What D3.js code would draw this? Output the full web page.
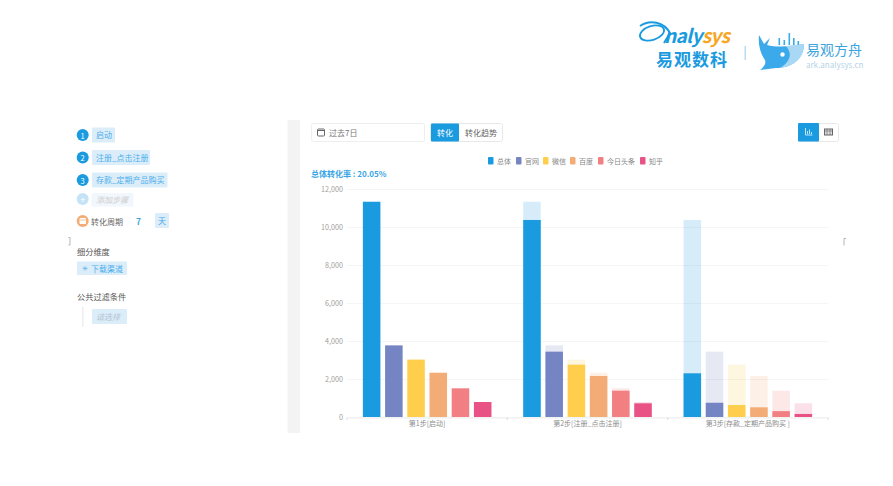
<!DOCTYPE html>
<html>
<head>
<meta charset="utf-8">
<script src="https://cdn.jsdelivr.net/npm/d3@7"></script>
<style>
  html, body { margin: 0; padding: 0; background: #fff; }
  text { font-family: "Noto Sans CJK SC", "Noto Sans", sans-serif; }
</style>
</head>
<body>
<div class="chart"></div>
<script>
// values
const steps = ["第1步[启动]", "第2步[注册_点击注册]", "第3步[存款_定期产品购买 ]"];
const seriesNames = ["总体", "官网", "微信", "百度", "今日头条", "知乎"];
const colors = ["#1a9be0", "#7585c3", "#ffce4d", "#f3ac76", "#f27f82", "#e85285"];
const total = [11330, 10370, 2300];
const guanwang = [3770, 3440, 750];
const weixin = [3020, 2755, 630];
const baidu = [2330, 2160, 510];
const toutiao = [1510, 1385, 310];
const zhihu = [790, 720, 160];
const yTicks = [0, 2000, 4000, 6000, 8000, 10000, 12000];
const stepLabels = ["启动", "注册_点击注册", "存款_定期产品购买"];

const allSeries = [total, guanwang, weixin, baidu, toutiao, zhihu];
const blue = "#1a9be0", chip = "#dcedfa";

const svg = d3.select(".chart").append("svg")
  .attr("width", 893).attr("height", 486)
  .style("display", "block");

function label(x, y, str, size, fill, extra) {
  const t = svg.append("text").attr("x", x).attr("y", y)
    .attr("dominant-baseline", "central")
    .attr("font-size", size).attr("fill", fill).text(str);
  if (extra) extra(t);
  return t;
}
function box(x, y, w, h, fill, r) {
  return svg.append("rect").attr("x", x).attr("y", y).attr("width", w).attr("height", h)
    .attr("fill", fill).attr("rx", r || 0);
}

// ---------- chart ----------
const x0 = d3.scaleBand().domain(steps).range([347, 828]);
const x1 = d3.scaleBand().domain(seriesNames).range([0, x0.bandwidth()])
  .paddingInner(0.21).paddingOuter(0.715);
const y = d3.scaleLinear().domain([0, 12000]).range([417, 189]);

const yAxis = d3.axisLeft(y).tickValues(yTicks).tickFormat(d3.format(","))
  .tickSize(-481).tickPadding(4);
const gy = svg.append("g").attr("transform", "translate(347,0)").call(yAxis);
gy.select(".domain").remove();
gy.selectAll("line").attr("stroke", "#f4f5f6");
gy.selectAll("text").attr("fill", "#a0a0a0").attr("font-size", 7.2);

const xAxis = d3.axisBottom(x0).tickSize(0).tickPadding(3.5);
const gx = svg.append("g").attr("transform", "translate(0,417.5)").call(xAxis);
gx.select(".domain").attr("stroke", "#eeeeee");
gx.selectAll("text").attr("fill", "#8c8c8c").attr("font-size", 7);
svg.append("g").selectAll("line")
  .data(d3.range(steps.length + 1))
  .join("line")
  .attr("x1", i => 347 + i * x0.step()).attr("x2", i => 347 + i * x0.step())
  .attr("y1", 417.5).attr("y2", 420)
  .attr("stroke", "#ddd");

seriesNames.forEach((name, s) => {
  const vals = allSeries[s];
  const g = svg.append("g");
  // faded bar = the value of the previous step
  g.selectAll(".ghost")
    .data(steps.slice(1))
    .join("rect")
    .attr("class", "ghost")
    .attr("x", d => x0(d) + x1(name))
    .attr("width", x1.bandwidth())
    .attr("y", (d, i) => y(vals[i]))
    .attr("height", (d, i) => y(0) - y(vals[i]))
    .attr("fill", colors[s]).attr("opacity", 0.18);
  g.selectAll(".bar")
    .data(steps)
    .join("rect")
    .attr("class", "bar")
    .attr("x", d => x0(d) + x1(name))
    .attr("width", x1.bandwidth())
    .attr("y", (d, i) => y(vals[i]))
    .attr("height", (d, i) => y(0) - y(vals[i]))
    .attr("fill", colors[s]);
});

// legend
const legendX = [488, 516, 543, 570, 598, 640];
seriesNames.forEach((name, i) => {
  box(legendX[i], 157, 5.5, 7.5, colors[i], 1);
  label(legendX[i] + 9, 160.5, name, 7, "#888");
});
label(311, 173.5, "总体转化率 : 20.05%", 8, "#3ba6e6", t => t.attr("font-weight", 700));

// ---------- toolbar ----------
box(311.5, 123.5, 113, 18, "#fff", 2).attr("stroke", "#eeeeee");
svg.append("rect").attr("x", 317.5).attr("y", 129).attr("width", 7).attr("height", 7)
  .attr("fill", "none").attr("stroke", "#666").attr("rx", 1);
svg.append("line").attr("x1", 317.5).attr("x2", 324.5).attr("y1", 130.5).attr("y2", 130.5).attr("stroke", "#666");
label(329, 132.5, "过去7日", 8, "#777");
box(430.5, 123.5, 72, 18, "#fff", 2).attr("stroke", "#e8e8e8");
box(431, 123.5, 28, 18, blue, 1);
label(437, 132.5, "转化", 8, "#fff");
label(465, 132.5, "转化趋势", 8, "#666");

box(798.5, 123.5, 40, 18, "#fff", 2).attr("stroke", "#e8e8e8");
box(798, 123, 21, 18.5, blue, 1);
svg.append("path").attr("d", "M805.5 128v7h7M807.5 134v-3M809.5 134v-4.5M811.5 134v-2")
  .attr("fill", "none").attr("stroke", "#bfe3f8");
svg.append("rect").attr("x", 824.5).attr("y", 129).attr("width", 8).attr("height", 6)
  .attr("fill", "#ddd").attr("stroke", "#666");
svg.append("path").attr("d", "M824.5 131h8M827 129v6M830 129v6").attr("stroke", "#666").attr("stroke-width", 0.6);

// ---------- left panel ----------
box(287.5, 120, 12.5, 313, "#f3f3f4");
const stepY = [135, 157.5, 180];
const stepW = [23, 58, 75.5];
stepLabels.forEach((s, i) => {
  svg.append("circle").attr("cx", 82.7).attr("cy", stepY[i]).attr("r", 6).attr("fill", blue);
  label(82.7, stepY[i], i + 1, 7.5, "#fff", t => t.attr("text-anchor", "middle"));
  box(92, stepY[i] - 7.5, stepW[i], 15, chip, 1);
  label(96, stepY[i] - 0.5, s, 8, "#4aaeea");
});
svg.append("circle").attr("cx", 82.7).attr("cy", 199).attr("r", 6).attr("fill", "#c5e3f7");
label(82.7, 199, "+", 9, "#fff", t => t.attr("text-anchor", "middle"));
box(91.5, 193, 42, 13.5, "#f1f7fc", 1);
label(96, 199.5, "添加步骤", 8, "#ccc", t => t.attr("font-style", "italic"));

svg.append("circle").attr("cx", 82.7).attr("cy", 221).attr("r", 6).attr("fill", "#f3ac76");
box(79.5, 218, 6.5, 6, "#fff", 1);
svg.append("line").attr("x1", 79.5).attr("x2", 86).attr("y1", 220).attr("y2", 220).attr("stroke", "#f3ac76").attr("stroke-width", 0.7);
label(91, 221.5, "转化周期", 8, "#666");
label(136, 220.5, "7", 8.5, "#3ba6e6", t => t.attr("font-weight", 700));
box(155, 213, 14, 15, chip, 1);
label(158, 220.5, "天", 8, "#3ba6e6");

svg.append("path").attr("d", "M68.5 237.5h1.5v7.5h-1.5").attr("fill", "none").attr("stroke", "#999").attr("stroke-width", 0.7);
svg.append("path").attr("d", "M846 238.5h-2v7").attr("fill", "none").attr("stroke", "#999").attr("stroke-width", 0.7);

label(77, 250.5, "细分维度", 8.2, "#555");
box(77, 261.5, 50, 13.5, chip, 1);
label(85, 268, "✳", 7, "#4aaeea", t => t.attr("text-anchor", "middle"));
label(91, 268, "下载渠道", 8, "#4aaeea");

label(77, 295.5, "公共过滤条件", 8.2, "#555");
box(82, 307, 1.5, 20, "#eeeeee");
box(92, 309, 35, 15, chip, 1);
label(96, 316.5, "请选择", 8, "#b5c4d0", t => t.attr("font-style", "italic"));

// ---------- logos ----------
svg.append("ellipse").attr("cx", 652).attr("cy", 33).attr("rx", 12.5).attr("ry", 7)
  .attr("transform", "rotate(-18 652 33)")
  .attr("fill", "none").attr("stroke", blue).attr("stroke-width", 1.8);
svg.append("path").attr("d", "M640 26C650 19 664 22 670 33L664 43")
  .attr("fill", "none").attr("stroke", blue).attr("stroke-width", 2);
svg.append("text").attr("x", 664).attr("y", 43)
  .attr("font-size", 19).attr("font-weight", 700).attr("font-style", "italic")
  .attr("font-family", "Liberation Sans").attr("textLength", 66)
  .attr("fill", blue)
  .call(t => t.append("tspan").text("naly"))
  .call(t => t.append("tspan").attr("fill", "#f6a623").text("sys"));
label(656, 58.5, "易观数科", 17, blue, t => t.attr("font-weight", 700).attr("textLength", 71));
box(744.5, 46, 1.5, 14, "#b9dcf2");

// whale
svg.append("path")
  .attr("d", "M759 35L764 44L770 38L767 45C778 48 794 46 804 44C804 58 793 68 776 68L760 70C765 66 766 63 765 60C760 53 758 44 759 35Z")
  .attr("fill", "#3ba9ea");
svg.append("path").attr("d", "M786 46L804 44C804 57 795 66 780 68C790 62 793 54 786 46Z").attr("fill", "#a9d8f5");
svg.append("circle").attr("cx", 782.5).attr("cy", 54.5).attr("r", 2.2).attr("fill", "#fff");
[[778.5, 38], [783.5, 40], [788.5, 33], [793, 38], [797.5, 41]].forEach(b => {
  box(b[0], b[1], 1.6, 45 - b[1], "#3ba9ea");
});
label(806, 49, "易观方舟", 14, "#3ba3e0");
label(806, 64, "ark.analysys.cn", 8, "#b7d3e6", t => t.attr("font-family", "Liberation Sans"));
</script>
</body>
</html>
